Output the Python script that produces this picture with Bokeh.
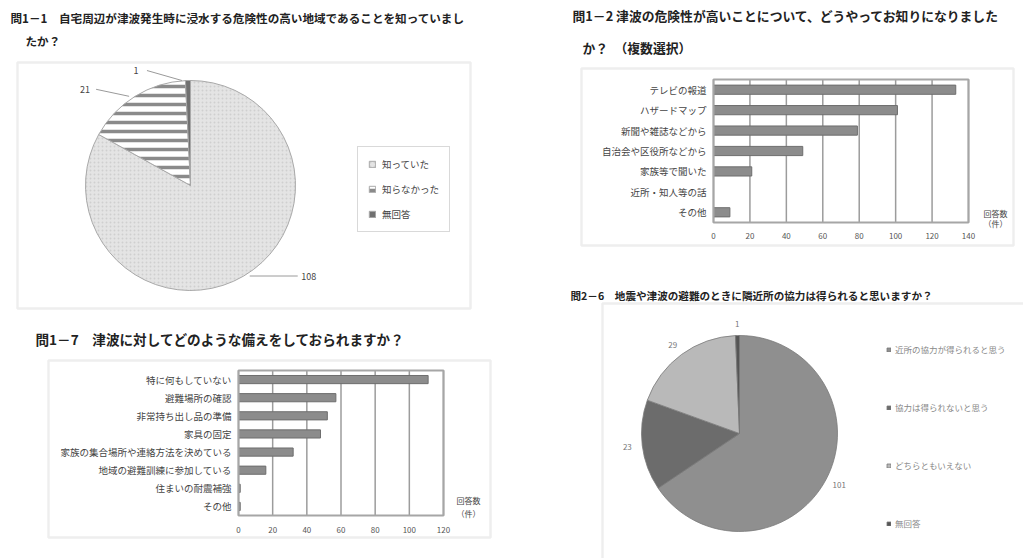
import math
from bokeh.plotting import figure
from bokeh.models import (Range1d, Label, BoxAnnotation, Legend, LegendItem, ColumnDataSource)
from bokeh.layouts import row, column
from bokeh.embed import file_html
from bokeh.resources import INLINE
from bokeh.core.properties import value

FONT = "Noto Sans CJK JP"

# ---------------- data ----------------
q11_title = ["問1－1　自宅周辺が津波発生時に浸水する危険性の高い地域であることを知っていまし",
             "たか？"]
q11_labels = ["知っていた", "知らなかった", "無回答"]
q11_values = [108, 21, 1]

q12_title = ["問1－2 津波の危険性が高いことについて、どうやってお知りになりました",
             "か？　（複数選択）"]
q12_categories = ["テレビの報道", "ハザードマップ", "新聞や雑誌などから", "自治会や区役所などから",
                  "家族等で聞いた", "近所・知人等の話", "その他"]
q12_values = [133, 101, 79, 49, 21, 0, 9]
q12_ticks = [0, 20, 40, 60, 80, 100, 120, 140]

q17_title = "問1－7　津波に対してどのような備えをしておられますか？"
q17_categories = ["特に何もしていない", "避難場所の確認", "非常持ち出し品の準備", "家具の固定",
                  "家族の集合場所や連絡方法を決めている", "地域の避難訓練に参加している",
                  "住まいの耐震補強", "その他"]
q17_values = [111, 57, 52, 48, 32, 16, 1, 1]
q17_ticks = [0, 20, 40, 60, 80, 100, 120]

q26_title = "問2－6　地震や津波の避難のときに隣近所の協力は得られると思いますか？"
q26_labels = ["近所の協力が得られると思う", "協力は得られないと思う", "どちらともいえない", "無回答"]
q26_values = [101, 23, 29, 1]

unit_label = ["回答数", "（件）"]


# ---------------- helpers ----------------
def pie_geometry(values):
    total = float(sum(values))
    starts, ends, mx, my = [], [], [], []
    c = 0.0
    for v in values:
        c0 = c / total
        c += v
        c1 = c / total
        starts.append(math.pi / 2 - 2 * math.pi * c1)
        ends.append(math.pi / 2 - 2 * math.pi * c0)
        mid = math.pi / 2 - math.pi * (c0 + c1)
        mx.append(math.cos(mid))
        my.append(math.sin(mid))
    return starts, ends, mx, my


def canvas_fig(W, H):
    # frame covers the whole figure; data units = pixels (y upwards)
    p = figure(width=W, height=H, x_range=Range1d(0, W), y_range=Range1d(0, H),
               output_backend="svg", toolbar_location=None, min_border=0,
               x_axis_location=None, y_axis_location=None, title=None)
    p.grid.grid_line_color = None
    p.grid.visible = False
    p.outline_line_color = None
    p.background_fill_color = "white"
    p.border_fill_color = "white"
    return p


def label(p, x, y, text, size="11px", bold=False, color="#222", align="left"):
    p.add_layout(Label(x=x, y=y, text=text, text_font=FONT, text_font_size=size,
                       text_font_style="bold" if bold else "normal",
                       text_color=color, text_align=align, text_baseline="middle"))


def box(p, left, right, top, bottom):
    p.add_layout(BoxAnnotation(left=left, right=right, top=top, bottom=bottom,
                               fill_color=None, line_color="#c6c6c6", line_width=2.5))


def bar_panel(W, H, area, cats, vals, ticks, cat_size, tick_size, tick_off):
    # area = (left, top, right, bottom) of the plot area in figure pixels (top-down)
    p = canvas_fig(W, H)
    x0, yt, x1, yb = area
    n = len(cats)
    xmax = ticks[-1]
    sub = p.subplot(x_source=Range1d(0, xmax), y_source=Range1d(0, n),
                    x_target=Range1d(x0, x1), y_target=Range1d(H - yb, H - yt))
    pos = [n - 0.5 - i for i in range(n)]  # first category at the top
    src = ColumnDataSource(dict(cat=cats, val=vals, pos=pos))
    sub.segment(x0=ticks, y0=0, x1=ticks, y1=n, line_color="#9c9c9c", line_width=1.5)
    sub.hbar(y="pos", left=0, right="val", height=0.45, fill_color="#8c8c8c",
             line_color="#6e6e6e", line_width=1, source=src)
    sub.quad(left=0, right=xmax, bottom=0, top=n, fill_color=None,
             line_color="#a6a6a6", line_width=2)
    sub.text(x=0, y="pos", text="cat", x_offset=-7, source=src, text_font=value(FONT),
             text_font_size=cat_size, text_color="#444", text_align="right",
             text_baseline="middle")
    sub.text(x=ticks, y=0, text=[str(t) for t in ticks], y_offset=tick_off,
             text_font=value(FONT), text_font_size=tick_size, text_color="#555",
             text_align="center", text_baseline="middle")
    return p


# ---------------- Q1-1 pie (top left) ----------------
W1, H1 = 540, 325
p1 = canvas_fig(W1, H1)
box(p1, 17, 470, H1 - 62, H1 - 308)
label(p1, 10, H1 - 17, q11_title[0], size="11.6px", bold=True)
label(p1, 25, H1 - 40, q11_title[1], size="11.6px", bold=True)

cx1, cy1, r1 = 190, H1 - 185, 105
s1, e1, mx1, my1 = pie_geometry(q11_values)
src1 = ColumnDataSource(dict(start=s1, end=e1,
                             color=["#e4e4e4", "#ffffff", "#707070"],
                             hatch=[".", "-", " "],
                             hcolor=["#cfcfcf", "#8a8a8a", "#707070"],
                             hscale=[4.0, 9.0, 4.0],
                             hweight=[1.0, 3.5, 1.0]))
w1 = p1.wedge(x=cx1, y=cy1, radius=r1, start_angle="start", end_angle="end",
              fill_color="color", hatch_pattern="hatch", hatch_color="hcolor",
              hatch_scale="hscale", hatch_weight="hweight",
              line_color="#a8a8a8", line_width=1, source=src1)

off1 = [(65, 0), (-50, -7), (-52, -10)]  # label offsets from slice edge (px)
ex = [cx1 + r1 * a for a in mx1]
ey = [cy1 + r1 * b for b in my1]
lx = [ex[i] + off1[i][0] for i in range(3)]
ly = [ey[i] - off1[i][1] for i in range(3)]
sg = [1 if off1[i][0] > 0 else -1 for i in range(3)]
p1.segment(x0=[ex[i] + 6 * sg[i] for i in range(3)], y0=ey,
           x1=[lx[i] - 11 * sg[i] for i in range(3)], y1=ly,
           line_color="#9a9a9a", line_width=1)
p1.text(x=lx, y=ly, text=[str(v) for v in q11_values], text_font=value(FONT),
        text_font_size="9px", text_color="#444", text_align="center", text_baseline="middle")

leg1 = Legend(items=[LegendItem(label=q11_labels[i], renderers=[w1], index=i) for i in range(3)],
              location=(357, H1 - 232), margin=0, padding=10, spacing=11,
              label_height=14, glyph_height=8, glyph_width=8, label_standoff=6,
              label_text_font=FONT, label_text_font_size="9.5px", label_text_color="#444",
              border_line_color="#b4b4b4", border_line_width=1.5,
              background_fill_color="white", background_fill_alpha=1)
p1.add_layout(leg1)

# ---------------- Q1-2 bars (top right) ----------------
W2, H2 = 483, 275
p2 = bar_panel(W2, H2, (173, 79, 428, 222), q12_categories, q12_values, q12_ticks,
               "9.5px", "8px", 13)
box(p2, 41, 473, H2 - 68, H2 - 245)
label(p2, 32, H2 - 15, q12_title[0], size="12.8px", bold=True)
label(p2, 42, H2 - 47, q12_title[1], size="12.8px", bold=True)
label(p2, 455, H2 - 213, unit_label[0], size="8px", color="#444", align="center")
label(p2, 455, H2 - 223, unit_label[1], size="8px", color="#444", align="center")

# ---------------- Q1-7 bars (bottom left) ----------------
W3, H3 = 540, 233
p3 = bar_panel(W3, H3, (238, 45, 443, 190), q17_categories, q17_values, q17_ticks,
               "9.5px", "8px", 14)
box(p3, 48, 490, H3 - 35, H3 - 212)
label(p3, 35, H3 - 13, q17_title, size="13.6px", bold=True)
label(p3, 468, H3 - 175, unit_label[0], size="8px", color="#444", align="center")
label(p3, 468, H3 - 188, unit_label[1], size="8px", color="#444", align="center")

# ---------------- Q2-6 pie (bottom right) ----------------
W4, H4 = 483, 283
p4 = canvas_fig(W4, H4)
box(p4, 62, 495, H4 - 28, -10)
label(p4, 30, H4 - 20, q26_title, size="10.6px", bold=True)

cx4, cy4, r4 = 199, H4 - 158, 98
s4, e4, mx4, my4 = pie_geometry(q26_values)
src4 = ColumnDataSource(dict(start=s4, end=e4,
                             color=["#8f8f8f", "#6c6c6c", "#b9b9b9", "#555555"]))
w4 = p4.wedge(x=cx4, y=cy4, radius=r4, start_angle="start", end_angle="end",
              fill_color="color", line_color="#7a7a7a", line_width=0.8, source=src4)
p4.text(x=[cx4 + (r4 + 15) * a for a in mx4], y=[cy4 + (r4 + 12) * b for b in my4],
        text=[str(v) for v in q26_values], text_font=value(FONT), text_font_size="8px",
        text_color="#777", text_align="center", text_baseline="middle")

leg4 = Legend(items=[LegendItem(label=q26_labels[i], renderers=[w4], index=i) for i in range(4)],
              location=(346, H4 - 255), margin=0, padding=0, spacing=44,
              label_height=14, glyph_height=5, glyph_width=5, label_standoff=4,
              label_text_font=FONT, label_text_font_size="8.5px", label_text_color="#888",
              border_line_color=None, background_fill_alpha=0)
p4.add_layout(leg4)

layout = row(column(p1, p3), column(p2, p4))
open("out.html", "w").write(file_html(layout, INLINE))
